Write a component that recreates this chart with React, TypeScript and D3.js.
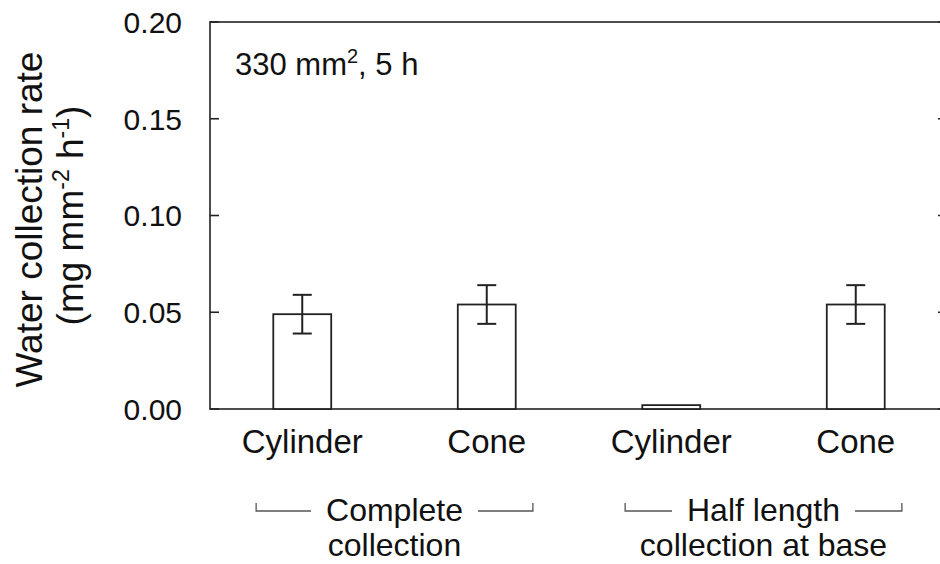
import React, { useEffect, useRef } from "react";
import * as d3 from "d3";

const categories = ["Cylinder", "Cone", "Cylinder", "Cone"];
const means = [0.049, 0.054, 0.002, 0.054];
const errors = [0.010, 0.010, 0, 0.010];
const yTicks = [0, 0.05, 0.10, 0.15, 0.20];
const groupLabels = [["Complete", "collection"], ["Half length", "collection at base"]];
const groupMembers = [[0, 1], [2, 3]];

const W = 940;
const H = 564;
const FONT = "'Liberation Sans', Arial, Helvetica, sans-serif";

export default function App() {
  const ref = useRef<SVGSVGElement | null>(null);

  useEffect(() => {
    const svg = d3.select(ref.current);
    svg.selectAll("*").remove();

    const left = 210, right = 948, top = 22, bottom = 409;
    const x = d3.scaleBand<number>()
      .domain(d3.range(categories.length))
      .range([left, right])
      .paddingInner(0.686)
      .paddingOuter(0.343);
    const y = d3.scaleLinear().domain([0, 0.2]).range([bottom, top]);

    const g = svg.append("g").attr("font-family", FONT).attr("fill", "#111");

    // frame
    g.append("rect")
      .attr("x", left).attr("y", top)
      .attr("width", right - left).attr("height", bottom - top)
      .attr("fill", "none").attr("stroke", "#222").attr("stroke-width", 1.6);

    // ticks (inward on both sides)
    yTicks.forEach((t) => {
      g.append("line").attr("x1", left).attr("x2", left + 9)
        .attr("y1", y(t)).attr("y2", y(t)).attr("stroke", "#222").attr("stroke-width", 1.6);
      g.append("line").attr("x1", right - 10).attr("x2", right)
        .attr("y1", y(t)).attr("y2", y(t)).attr("stroke", "#222").attr("stroke-width", 1.6);
      g.append("text")
        .attr("x", 182).attr("y", y(t)).attr("dy", "0.36em")
        .attr("text-anchor", "end").attr("font-size", 30)
        .text(d3.format(".2f")(t));
    });

    // bars
    const bw = x.bandwidth();
    means.forEach((m, i) => {
      const bx = x(i)!;
      g.append("rect")
        .attr("x", bx).attr("y", y(m))
        .attr("width", bw).attr("height", y(0) - y(m))
        .attr("fill", "#fff").attr("stroke", "#222").attr("stroke-width", 1.8);
      const e = errors[i];
      if (e > 0) {
        const cx = bx + bw / 2;
        const eg = g.append("g").attr("stroke", "#222").attr("stroke-width", 2);
        eg.append("line").attr("x1", cx).attr("x2", cx).attr("y1", y(m + e)).attr("y2", y(m - e));
        eg.append("line").attr("x1", cx - 9.5).attr("x2", cx + 9.5).attr("y1", y(m + e)).attr("y2", y(m + e));
        eg.append("line").attr("x1", cx - 9.5).attr("x2", cx + 9.5).attr("y1", y(m - e)).attr("y2", y(m - e));
      }
      g.append("text")
        .attr("x", bx + bw / 2).attr("y", 453)
        .attr("text-anchor", "middle").attr("font-size", 33)
        .text(categories[i]);
    });

    // group labels with brackets
    const step = x.step();
    groupMembers.forEach((mem, gi) => {
      const c0 = x(mem[0])! + bw / 2;
      const c1 = x(mem[mem.length - 1])! + bw / 2;
      const gl = c0 - 0.25 * step;
      const gr = c1 + 0.25 * step;
      const gc = (gl + gr) / 2;
      const t1 = g.append("text")
        .attr("x", gc).attr("y", 521)
        .attr("text-anchor", "middle").attr("font-size", 32)
        .text(groupLabels[gi][0]);
      g.append("text")
        .attr("x", gc).attr("y", 556)
        .attr("text-anchor", "middle").attr("font-size", 32)
        .text(groupLabels[gi][1]);
      const tw = (t1.node() as SVGTextElement).getComputedTextLength();
      const gap = 15;
      const ly = 511;
      const bs = g.append("g").attr("stroke", "#555").attr("stroke-width", 1.3).attr("fill", "none");
      bs.append("path").attr("d", `M${gl},${ly - 8}V${ly}H${gc - tw / 2 - gap}`);
      bs.append("path").attr("d", `M${gr},${ly - 8}V${ly}H${gc + tw / 2 + gap}`);
    });

    // inset annotation
    const ann = g.append("text").attr("x", 235).attr("y", 75).attr("font-size", 31);
    ann.append("tspan").text("330 mm");
    ann.append("tspan").attr("font-size", 20).attr("dy", -12).text("2");
    ann.append("tspan").attr("dy", 12).text(", 5 h");

    // y-axis title
    const cy = (top + bottom) / 2 + 4;
    g.append("text")
      .attr("transform", `translate(42,${cy}) rotate(-90)`)
      .attr("text-anchor", "middle").attr("font-size", 37)
      .text("Water collection rate");
    const t2 = g.append("text")
      .attr("transform", `translate(83,${cy - 4}) rotate(-90)`)
      .attr("text-anchor", "middle").attr("font-size", 37);
    t2.append("tspan").text("(mg mm");
    t2.append("tspan").attr("font-size", 23).attr("dy", -14).text("-2");
    t2.append("tspan").attr("dy", 14).text(" h");
    t2.append("tspan").attr("font-size", 23).attr("dy", -14).text("-1");
    t2.append("tspan").attr("dy", 14).text(")");
  }, []);

  return (
    <svg
      ref={ref}
      width={W}
      height={H}
      style={{ position: "absolute", left: 0, top: 0, background: "#fff" }}
    />
  );
}
